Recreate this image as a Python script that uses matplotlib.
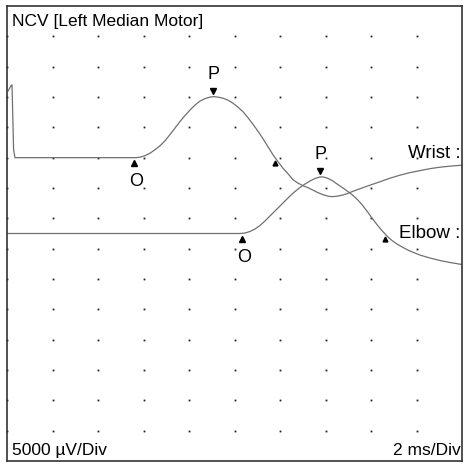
import matplotlib
matplotlib.use("Agg")
import matplotlib.pyplot as plt
import matplotlib.transforms as mtransforms
import numpy as np

plt.rcParams["font.family"] = ["Liberation Sans", "DejaVu Sans"]

# time base 2 ms/div, gain 5000 uV/div (5 mV/div)
ms_per_div = 2.0
mv_per_div = 5.0
n_xdiv, n_ydiv = 10, 15

# Wrist trace: time (ms), amplitude (mV) relative to baseline
wrist_t = [0.05, 0.18, 0.22, 0.29, 0.35,
           5.67, 5.85, 6.07, 6.29, 6.51, 6.73, 6.95, 7.16, 7.38, 7.60, 7.82, 8.04,
           8.26, 8.48, 8.70, 8.92, 9.10, 9.27, 9.49, 9.71, 9.93, 10.15, 10.37,
           10.59, 10.81, 11.03, 11.25, 11.47, 11.69, 11.91, 12.13, 12.35, 12.57,
           12.79, 13.01, 13.23, 13.45, 13.67, 13.89, 14.11, 14.29, 14.51, 14.73,
           14.95, 15.16, 15.52, 15.96, 16.40, 16.84, 17.27, 17.71, 18.15, 18.59,
           19.03, 19.47, 20.0]
wrist_mv = [11.0, 11.9, 12.0, 1.3, 0.0,
            0.0, 0.08, 0.33, 0.74, 1.32, 1.98, 2.80, 3.79, 4.86, 5.94, 6.93, 7.83,
            8.66, 9.32, 9.73, 9.98, 10.06, 9.98, 9.81, 9.48, 8.99, 8.33, 7.59,
            6.60, 5.52, 4.37, 3.13, 1.81, 0.49, -0.66, -1.73, -2.64, -3.63,
            -4.20, -4.62, -4.95, -5.36, -5.77, -6.10, -6.35, -6.43, -6.35, -6.18,
            -5.94, -5.61, -5.11, -4.53, -3.96, -3.38, -2.89, -2.47, -2.14, -1.81,
            -1.57, -1.40, -1.24]

# Elbow trace
elbow_t = [0.0, 10.24, 10.46, 10.68, 10.90, 11.12, 11.34, 11.56, 11.78, 12.00,
           12.22, 12.44, 12.66, 12.88, 13.10, 13.32, 13.54, 13.76, 13.89, 14.07,
           14.29, 14.51, 14.73, 14.95, 15.16, 15.38, 15.60, 15.82, 16.04, 16.26,
           16.48, 16.70, 16.92, 17.14, 17.41, 17.71, 18.15, 18.59, 19.03, 19.47,
           20.0]
elbow_mv = [0.0, 0.0, 0.08, 0.33, 0.74, 1.32, 2.06, 2.89, 3.71, 4.53,
            5.36, 6.18, 6.93, 7.59, 8.16, 8.66, 9.07, 9.32, 9.32, 9.15,
            8.74, 8.16, 7.59, 7.01, 6.43, 5.69, 4.78, 3.71, 2.56, 1.48,
            0.49, -0.41, -1.15, -1.73, -2.31, -2.89, -3.55, -4.04, -4.45, -4.78,
            -5.11]

# baselines (divisions from bottom)
wrist_base = 10.0
elbow_base = 7.5

# markers: onset (O), peak (P), end
wrist_marks = {"O": (5.6, 0.0), "P": (9.06, 10.1), "E": (11.8, 0.0)}
elbow_marks = {"O": (10.33, 0.0), "P": (13.76, 9.4), "E": (16.62, 0.0)}

fig = plt.figure(figsize=(4.70, 4.66), dpi=100)
ax = fig.add_axes([7 / 470, 5 / 466, 455 / 470, 455 / 466])
ax.set_xlim(0, n_xdiv * ms_per_div)
ax.set_ylim(0, n_ydiv)
ax.set_xticks([])
ax.set_yticks([])
for s in ax.spines.values():
    s.set_color("#333333")
    s.set_linewidth(1.2)

# dotted grid
gx, gy = np.meshgrid(np.arange(0, n_xdiv) * ms_per_div, np.arange(1, n_ydiv))
ax.plot(gx.ravel(), gy.ravel(), ls="", marker="s", ms=1.3, mew=0, color="#222222",
        clip_on=False)

def trace(t, mv, base, marks, name, label_y):
    y = base + np.array(mv) / mv_per_div
    ax.plot(t, y, color="#707070", lw=0.9)
    up = mtransforms.offset_copy(ax.transData, fig=fig, x=0, y=3.8, units="points")
    dn = mtransforms.offset_copy(ax.transData, fig=fig, x=0, y=-3.8, units="points")
    tp, ap = marks["P"]
    ax.plot(tp, base + ap / mv_per_div, marker="v", ms=4, color="k", transform=up)
    ax.annotate("P", (tp, base + ap / mv_per_div), xytext=(0, 16), textcoords="offset points",
                ha="center", va="center", fontsize=13)
    to, ao = marks["O"]
    ax.plot(to, base + ao / mv_per_div, marker="^", ms=4, color="k", transform=dn)
    ax.annotate("O", (to + 0.08, base + ao / mv_per_div), xytext=(0, -17),
                textcoords="offset points", ha="center", va="center", fontsize=13)
    te, ae = marks["E"]
    ax.plot(te, base + ae / mv_per_div, marker="^", ms=3.5, color="k", transform=dn)
    ax.text(19.92, label_y, name, ha="right", va="center", fontsize=13.5)

trace(wrist_t, wrist_mv, wrist_base, wrist_marks, "Wrist :", 10.15)
trace(elbow_t, elbow_mv, elbow_base, elbow_marks, "Elbow :", 7.5)

ax.text(0.011, 0.967, "NCV [Left Median Motor]", transform=ax.transAxes,
        ha="left", va="center", fontsize=12.5)
ax.text(0.011, 0.024, "5000 µV/Div", transform=ax.transAxes,
        ha="left", va="center", fontsize=12.5)
ax.text(0.998, 0.024, "2 ms/Div", transform=ax.transAxes,
        ha="right", va="center", fontsize=12.5)

fig.savefig("out.png", dpi=100)
